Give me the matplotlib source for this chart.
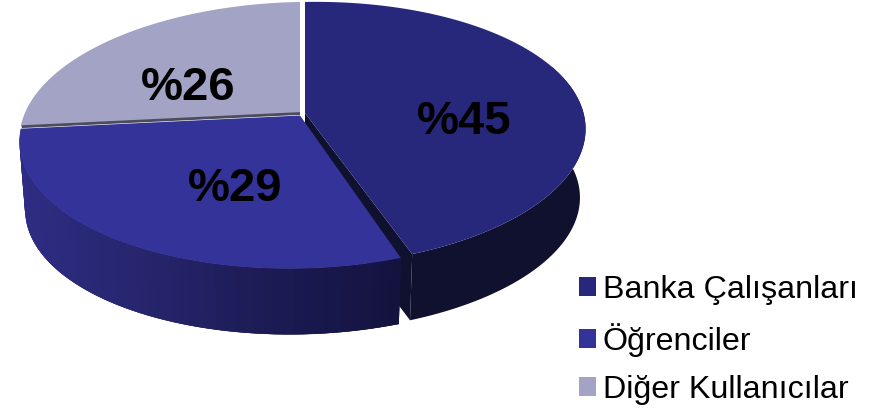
import numpy as np
import matplotlib
matplotlib.use("Agg")
import matplotlib.pyplot as plt
from matplotlib.patches import Polygon, Patch
from matplotlib.collections import PolyCollection
from matplotlib.colors import LinearSegmentedColormap

categories = ["Banka Çalışanları", "Öğrenciler", "Diğer Kullanıcılar"]
values = [45, 29, 26]
labels = ["%45", "%29", "%26"]
colors = ["#27277B", "#333399", "#A3A3C6"]

W, H = 879, 411
RX, RY, K, SHEAR = 277.0, 128.7, 0.159, -0.018
BOTTOM_SCALE, DEPTH = 0.98, 69
CUT_GAP = 1.2
plt.rcParams["font.family"] = ["Liberation Sans", "DejaVu Sans"]

fig = plt.figure(figsize=(W / 100, H / 100), dpi=100)
ax = fig.add_axes([0, 0, 1, 1])
ax.set_xlim(0, W)
ax.set_ylim(H, 0)
ax.axis("off")


def project(a_deg, cx, cy, s=1.0):
    a = np.radians(a_deg)
    d = 1 + K * np.sin(a)
    x = s * RX * np.cos(a) / d
    y = -s * RY * np.sin(a) / d
    return np.column_stack([cx + x, cy + y + SHEAR * x])


# slice boundaries, clockwise from 12 o'clock
edges = 90 - np.cumsum([0] + values) * 360.0 / sum(values)
apex = [(305, 113), (300, 115.5), (300, 113)]

side_dark = "#10102F"
side_map = LinearSegmentedColormap.from_list(
    "side", ["#2F2E86", "#2B2A7C", "#25246A", "#1B1A52", "#14133F"])

# slice 1: cut wall and outer wall
end1 = edges[1] + CUT_GAP
cx, cy = apex[0]
p_t = project(np.array([end1]), cx, cy)[0]
p_b = project(np.array([end1]), cx, cy + DEPTH, BOTTOM_SCALE)[0]
ax.add_patch(Polygon([(cx, cy), p_t, p_b, (cx, cy + DEPTH)], closed=True,
                     facecolor=side_dark, edgecolor="none", zorder=1))
ang = np.linspace(end1, 20, 120)
ax.add_patch(Polygon(np.vstack([project(ang, cx, cy),
                                project(ang[::-1], cx, cy + DEPTH, BOTTOM_SCALE)]),
                     closed=True, facecolor=side_dark, edgecolor="none", zorder=1))

# slice 2: outer wall with shading; strips overlap so no seams show
cx, cy = apex[1]
n = 60
ang = np.linspace(edges[2], edges[1], n + 1)
top = project(ang, cx, cy)
bot = project(ang, cx, cy + DEPTH, BOTTOM_SCALE)
quads = []
for i in range(n):
    j = min(i + 3, n)
    quads.append([top[i], top[j], bot[j], bot[i]])
shade = side_map(np.linspace(0, 1, n) ** 1.3)
ax.add_collection(PolyCollection(quads, facecolors=shade, edgecolors="none", zorder=2))

# top faces
ends = [end1, edges[2], edges[3]]
for i, c in enumerate(colors):
    rim = project(np.linspace(edges[i], ends[i], 200), *apex[i])
    ax.add_patch(Polygon(np.vstack([apex[i], rim]), closed=True, facecolor=c,
                         edgecolor="none", zorder=3 + (i == 1)))

# thin dark wall of slice 3 along its lower cut
rim3 = project(np.array([edges[2]]), apex[2][0], apex[2][1] + 0.5)[0]
ax.plot([apex[2][0], rim3[0] + 1], [apex[2][1] + 0.5, rim3[1]], color="#4C4C5C",
        lw=2.0, solid_capstyle="butt", zorder=5)

# data labels
label_pos = [(464, 122), (235, 189), (188, 88)]
for t, (x, y) in zip(labels, label_pos):
    ax.text(x, y, t, ha="center", va="center", fontsize=34, fontweight="bold",
            color="black", zorder=6)

handles = [Patch(facecolor=c, edgecolor="none") for c in colors]
ax.legend(handles, categories, loc="upper left", bbox_to_anchor=(569.5, 265),
          bbox_transform=ax.transData, frameon=False, fontsize=23.2,
          handlelength=0.53, handleheight=0.53, handletextpad=0.2,
          labelspacing=0.57, borderpad=0.3, borderaxespad=0)

fig.savefig("out.png", dpi=100)
